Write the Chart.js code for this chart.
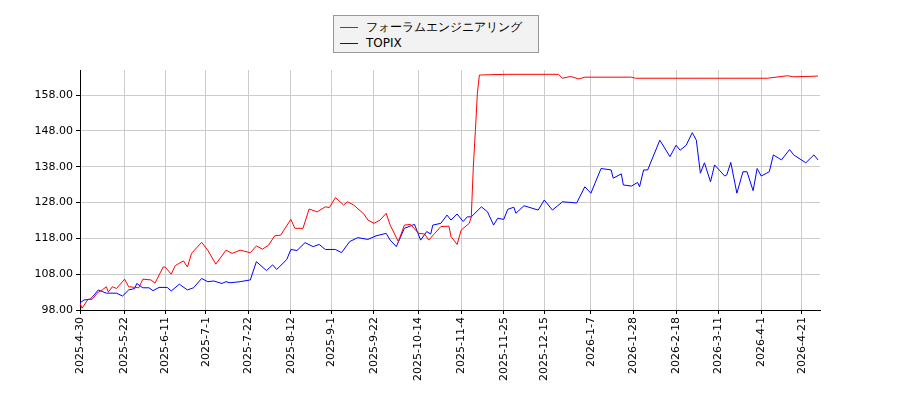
<!DOCTYPE html>
<html><head><meta charset="utf-8">
<script src="https://cdn.jsdelivr.net/npm/chart.js@4/dist/chart.umd.min.js"></script>
<style>
body{margin:0;background:#fff;width:900px;height:400px;overflow:hidden;font-family:"DejaVu Sans",sans-serif;}
#wrap{position:absolute;left:0;top:0;width:900px;height:400px;}
#legend{position:absolute;left:333px;top:15px;width:206px;height:38px;border:1px solid #999;background:#f2f2f2;font-size:12px;box-sizing:border-box;padding:3px 6px;}
.row{height:16px;line-height:16px;white-space:nowrap;}
.sw{display:inline-block;width:18px;height:0;border-top:1.5px solid;vertical-align:middle;margin-right:8px;}
</style></head><body>
<div id="wrap"><canvas id="c" width="900" height="400"></canvas></div>
<div id="legend">
<div class="row"><span class="sw" style="border-color:red"></span>フォーラムエンジニアリング</div>
<div class="row"><span class="sw" style="border-color:blue"></span>TOPIX</div>
</div>
<script>
const seriesNames = ["フォーラムエンジニアリング","TOPIX"];
const startDate = "2025-04-30";
const xTickLabels = ["2025-4-30","2025-5-22","2025-6-11","2025-7-1","2025-7-22","2025-8-12","2025-9-1","2025-9-22","2025-10-14","2025-11-4","2025-11-25","2025-12-15","2026-1-7","2026-1-28","2026-2-18","2026-3-11","2026-4-1","2026-4-21"];
const yTicks = [98,108,118,128,138,148,158];
// days since start date
const redDays = [0,1,4,6,9,11,13,14,16,18,22,24,29,31,35,37,41,42,45,47,51,53,55,60,63,67,72,75,79,84,87,90,93,96,99,104,106,110,113,117,121,123,126,130,132,135,140,142,145,148,151,153,157,160,163,167,170,172,175,178,182,183,186,188,192,193,194,195,196,197,211,236,238,242,246,249,272,274,301,323,339,349,352,364];
const redVals = [99.9,98.5,101,101,103,103.6,104.5,103,104.5,104,106.6,104.5,104.2,106.6,106.4,105.5,110,110,108,110.4,111.7,110,113.8,116.9,114.7,110.8,114.7,113.8,114.7,114,115.9,115,116.1,118.7,118.9,123.3,120.8,120.8,126.2,125.4,126.8,126.6,129.4,127.3,128.2,127.3,124.8,123.1,122.2,123.1,125,121.7,117.1,121.7,121.9,119.4,119.2,117.5,119.4,121.3,121.4,118.5,116.3,120.3,122.2,124,138,147.8,158.5,163.6,163.8,163.8,162.7,163.2,162.5,163,163,162.7,162.7,162.7,162.7,163.4,163.1,163.3];
const blueDays = [0,2,5,7,9,13,18,21,24,27,28,31,34,36,39,43,45,49,53,56,60,63,66,70,72,74,79,84,87,92,95,97,102,104,107,111,115,118,121,126,129,133,137,142,146,151,153,156,160,165,168,171,173,174,178,181,183,186,189,191,193,198,201,204,206,209,211,214,215,219,226,229,233,238,245,249,252,257,262,263,267,268,272,275,276,278,280,286,291,294,296,299,302,304,306,308,311,313,318,319,321,324,327,329,332,334,336,340,342,346,350,352,358,362,364];
const blueVals = [100,100.8,101,102.2,103.6,102.7,102.7,101.9,103.6,104,105.4,104.2,104.2,103.4,104.3,104.3,103.3,105.2,103.6,104.2,106.8,105.9,106.1,105.4,105.9,105.6,105.9,106.4,111.5,109,110.6,109.3,112.1,114.9,114.6,116.8,115.7,116.3,114.9,114.9,114,117.1,118.2,117.7,118.7,119.4,117.5,115.7,120.8,121.9,117.5,119.9,119.2,121.7,122.2,124.5,123.1,124.8,122.7,124,124,126.8,125.4,121.7,123.6,123.3,126.1,126.7,125,127.1,125.9,128.7,125.9,128.2,127.9,132.4,130.6,137.5,137.1,134.8,136,132.9,132.6,133.6,132.4,137.1,137.1,145.4,140.8,144,142.6,144,147.5,145.4,136.2,139.1,133.8,138.5,135.4,135.7,139.2,130.6,136.6,136.6,131.3,137.5,135.4,136.6,141.3,139.9,142.8,141.3,139.1,141.3,139.9];

const t0 = new Date(startDate+"T00:00:00Z").getTime();
function dayOf(s){const p=s.split("-").map(Number);return Math.round((Date.UTC(p[0],p[1]-1,p[2])-t0)/86400000);}
const tickDays = xTickLabels.map(dayOf);
const labelByDay = {}; tickDays.forEach((d,i)=>labelByDay[d]=xTickLabels[i]);
const mk=(ds,vs)=>ds.map((d,i)=>({x:d,y:vs[i]}));
const font={family:"DejaVu Sans",size:11};
new Chart(document.getElementById("c"),{
 type:"line",
 data:{datasets:[
  {label:seriesNames[0],data:mk(redDays,redVals),borderColor:"red",borderWidth:1,pointRadius:0,tension:0},
  {label:seriesNames[1],data:mk(blueDays,blueVals),borderColor:"blue",borderWidth:1,pointRadius:0,tension:0}
 ]},
 options:{responsive:false,animation:false,
  layout:{padding:{top:70,right:80,left:0,bottom:0}},
  plugins:{legend:{display:false},tooltip:{enabled:false}},
  scales:{
   x:{type:"linear",min:0,max:365,
     afterBuildTicks:s=>{s.ticks=tickDays.map(v=>({value:v}));},
     afterFit:s=>{s.height=90;},
     ticks:{autoSkip:false,maxRotation:90,minRotation:90,color:"#000",font,callback:v=>labelByDay[v]||""},
     grid:{color:"#cccccc",tickColor:"#000",tickLength:4},border:{color:"#000"}},
   y:{min:98,max:165,
     afterBuildTicks:s=>{s.ticks=yTicks.map(v=>({value:v}));},
     afterFit:s=>{s.width=80;},
     ticks:{color:"#000",font,callback:v=>Number(v).toFixed(2)},
     grid:{color:"#cccccc",tickColor:"#000",tickLength:4},border:{color:"#000"}}
  }}
});
</script></body></html>
